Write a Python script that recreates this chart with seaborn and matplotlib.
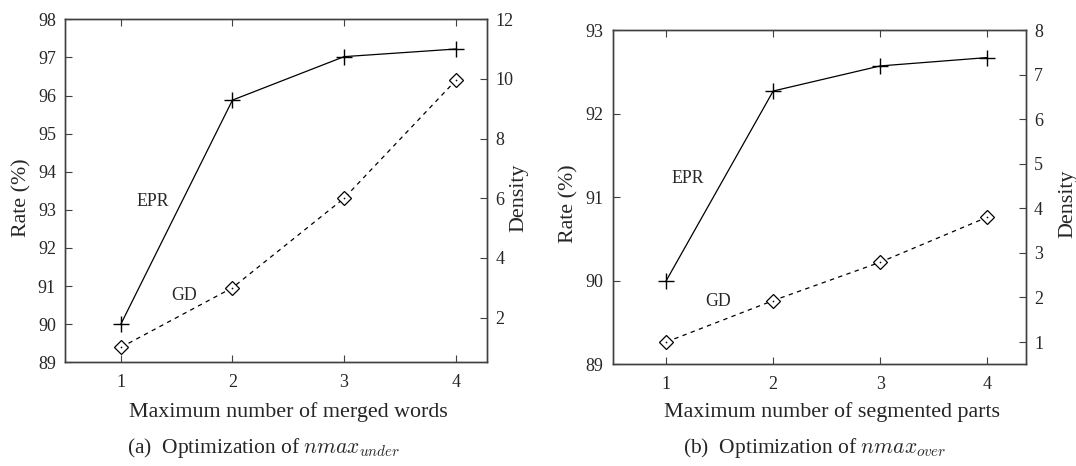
import matplotlib
matplotlib.use('Agg')
import matplotlib.pyplot as plt
import seaborn as sns
import pandas as pd

# values
x_vals = [1, 2, 3, 4]
under_epr = [90.0, 95.88, 97.02, 97.22]
under_gd = [1.0, 3.0, 6.0, 9.95]
over_epr = [90.0, 92.27, 92.57, 92.67]
over_gd = [1.0, 1.93, 2.79, 3.8]

rate_ticks_a = [89, 90, 91, 92, 93, 94, 95, 96, 97, 98]
dens_ticks_a = [2, 4, 6, 8, 10, 12]
rate_ticks_b = [89, 90, 91, 92, 93]
dens_ticks_b = [1, 2, 3, 4, 5, 6, 7, 8]

sns.set_style('ticks')
plt.rcParams['font.family'] = ['Liberation Serif', 'DejaVu Serif']
plt.rcParams['mathtext.fontset'] = 'cm'

W, H = 1076, 466
fig = plt.figure(figsize=(W / 100, H / 100), dpi=100)
fig.patch.set_facecolor('white')

spine_col = '#404040'


def panel(rect, epr, gd, rate_lim, rate_ticks, dens_lim, dens_ticks, xmax,
          epr_xy, gd_xy, lab_coords):
    df = pd.DataFrame({'x': x_vals, 'epr': epr, 'gd': gd})
    ax = fig.add_axes(rect)
    ax2 = ax.twinx()
    sns.lineplot(data=df, x='x', y='epr', ax=ax, color='black', lw=0.9,
                 marker='+', markersize=11, markeredgewidth=1.0,
                 markeredgecolor='black')
    sns.lineplot(data=df, x='x', y='gd', ax=ax2, color='black', lw=0.9,
                 linestyle=(0, (3.5, 3.5)), marker='D', markersize=7.5,
                 markerfacecolor='white', markeredgecolor='black',
                 markeredgewidth=0.9)
    sns.scatterplot(data=df, x='x', y='gd', ax=ax2, color='black', s=1.5,
                    linewidth=0, zorder=5)

    ax.set_xlim(0.5, xmax)
    ax.set_ylim(*rate_lim)
    ax2.set_ylim(*dens_lim)
    ax.set_xticks(x_vals)
    ax.set_yticks(rate_ticks)
    ax2.set_yticks(dens_ticks)

    for a in (ax, ax2):
        for s in a.spines.values():
            s.set_visible(True)
            s.set_color(spine_col)
            s.set_linewidth(1.0)
    ax.tick_params(axis='x', direction='in', top=True, bottom=True,
                   length=5, width=0.8, color=spine_col, labelsize=13, pad=8.5)
    ax.tick_params(axis='y', direction='in', left=True, right=False,
                   length=5, width=0.8, color=spine_col, labelsize=13, pad=6.5)
    ax2.tick_params(axis='y', direction='in', left=False, right=True,
                    length=5, width=0.8, color=spine_col, labelsize=13, pad=6)

    ax.set_xlabel('')
    ax.set_ylabel('Rate (%)', fontsize=15.8)
    ax2.set_ylabel('Density', fontsize=15.8)
    ax.yaxis.set_label_coords(lab_coords[0], 0.48)
    ax2.yaxis.set_label_coords(lab_coords[1], 0.48)

    ax.text(epr_xy[0], epr_xy[1], 'EPR', fontsize=12.8, ha='center', va='center')
    ax.text(gd_xy[0], gd_xy[1], 'GD', fontsize=12.8, ha='center', va='center')
    return ax


panel([65 / W, 1 - 362.3 / H, 422 / W, 343 / H], under_epr, under_gd,
      (89, 98), rate_ticks_a, (0.5, 12), dens_ticks_a, 4.28,
      (1.29, 93.22), (1.57, 90.76), (-0.08, 1.054))
panel([612.7 / W, 1 - 364.3 / H, 413 / W, 334.3 / H], over_epr, over_gd,
      (89, 93), rate_ticks_b, (0.5, 8), dens_ticks_b, 4.36,
      (1.20, 91.22), (1.49, 89.75), (-0.083, 1.078))

fig.text(288 / W, 1 - 416.7 / H, 'Maximum number of merged words',
         fontsize=15.8, ha='center', va='baseline')
fig.text(832 / W, 1 - 416.7 / H, 'Maximum number of segmented parts',
         fontsize=15.8, ha='center', va='baseline')
fig.text(263.7 / W, 1 - 453.3 / H, '(a)  Optimization of $nmax_{under}$',
         fontsize=15.5, ha='center', va='baseline')
fig.text(815 / W, 1 - 453.3 / H, '(b)  Optimization of $nmax_{over}$',
         fontsize=15.5, ha='center', va='baseline')

fig.savefig('out.png', dpi=100, facecolor='white')
